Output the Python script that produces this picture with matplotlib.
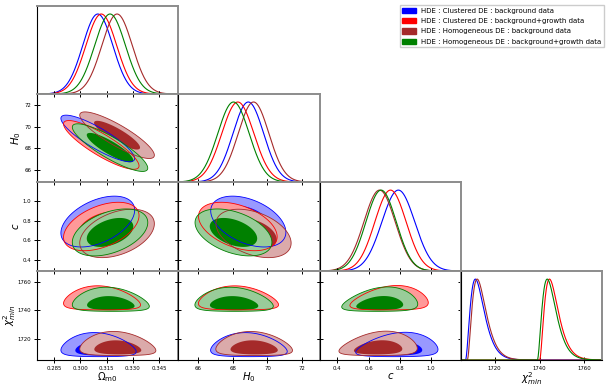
import numpy as np
import matplotlib
matplotlib.use('Agg')
import matplotlib.pyplot as plt
from matplotlib.patches import Patch
from matplotlib.colors import to_rgb
from math import lgamma

# ---------------- data ----------------
series_labels = ['HDE : Clustered DE : background data',
                 'HDE : Clustered DE : background+growth data',
                 'HDE : Homogeneous DE : background data',
                 'HDE : Homogeneous DE : background+growth data']
series_colors = ['#0000ff', '#ff0000', '#a52a2a', '#008000']

om_mean = [0.310, 0.312, 0.321, 0.317]
om_sigma = [0.0086, 0.0088, 0.0087, 0.0088]
h0_mean = [68.9, 68.3, 69.2, 68.05]
h0_sigma = [0.88, 0.92, 0.88, 0.90]
c_mean = [0.79, 0.74, 0.67, 0.68]
c_sigma = [0.105, 0.100, 0.100, 0.097]
chi2_start = [1707.0, 1740.0, 1707.8, 1739.0]
chi2_shape = [3.0, 3.0, 3.0, 3.0]
chi2_scale = [2.2, 2.2, 2.2, 2.2]

rho_om_h0 = [-0.86, -0.86, -0.86, -0.86]
rho_om_c = [0.45, 0.45, 0.40, 0.42]
rho_h0_c = [-0.42, -0.42, -0.40, -0.42]
chi2_tilt = {'om': -0.05, 'h0': -0.04, 'c': 0.09}

om_ticks = [0.285, 0.300, 0.315, 0.330, 0.345]
h0_ticks = [66, 68, 70, 72]
c_ticks = [0.4, 0.6, 0.8, 1.0]
chi_ticks = [1720, 1740, 1760]
om_ticklabels = ['0.285', '0.300', '0.315', '0.330', '0.345']
h0_ticklabels = ['66', '68', '70', '72']
c_ticklabels = ['0.4', '0.6', '0.8', '1.0']
chi_ticklabels = ['1720', '1740', '1760']

param_labels = [r'$\Omega_{\rm m0}$', r'$H_0$', r'$c$', r'$\chi^2_{min}$']

# ---------------- helpers ----------------
om_lim = (0.2753, 0.3558)
h0_lim = (64.87, 73.01)
c_lim = (0.29, 1.19)
chi_lim = (1705.0, 1767.8)
limits = [om_lim, h0_lim, c_lim, chi_lim]
ticks = [om_ticks, h0_ticks, c_ticks, chi_ticks]
ticklabels = [om_ticklabels, h0_ticklabels, c_ticklabels, chi_ticklabels]
keys = ['om', 'h0', 'c', 'chi']

means = {'om': om_mean, 'h0': h0_mean, 'c': c_mean}
sigmas = {'om': om_sigma, 'h0': h0_sigma, 'c': c_sigma}
rhos = {('om', 'h0'): rho_om_h0, ('om', 'c'): rho_om_c, ('h0', 'c'): rho_h0_c}


def light(col, a=0.4):
    r, g, b = to_rgb(col)
    return (1 - a + a * r, 1 - a + a * g, 1 - a + a * b)


def gamma_pdf(u, a, th):
    u = np.asarray(u, dtype=float)
    th = np.broadcast_to(np.asarray(th, dtype=float), u.shape)
    out = np.zeros_like(u)
    m = u > 0
    out[m] = np.exp((a - 1) * np.log(u[m] / th[m]) - u[m] / th[m] - lgamma(a)) / th[m]
    return out


def density(kx, ky, i, X, Y):
    mx, sx = means[kx][i], sigmas[kx][i]
    gx = np.exp(-0.5 * ((X - mx) / sx) ** 2)
    if ky == 'chi':
        th = chi2_scale[i] * np.exp(chi2_tilt[kx] * (X - mx) / sx)
        return gx * gamma_pdf(Y - chi2_start[i], chi2_shape[i], th)
    my, sy = means[ky][i], sigmas[ky][i]
    r = rhos[(kx, ky)][i]
    dx = (X - mx) / sx
    dy = (Y - my) / sy
    return np.exp(-0.5 * (dx * dx - 2 * r * dx * dy + dy * dy) / (1 - r * r))


def hpd_levels(Z):
    z = np.sort(Z.ravel())[::-1]
    cs = np.cumsum(z)
    cs /= cs[-1]
    return z[np.searchsorted(cs, 0.95)], z[np.searchsorted(cs, 0.68)]


def marginal(k, i, x):
    if k == 'chi':
        y = gamma_pdf(x - chi2_start[i], chi2_shape[i], chi2_scale[i])
    else:
        y = np.exp(-0.5 * ((x - means[k][i]) / sigmas[k][i]) ** 2)
    return y / y.max()


# ---------------- figure ----------------
W, H = 609, 386
fig = plt.figure(figsize=(W / 100, H / 100), dpi=100)
col_edges = [37, 178, 320, 461, 602]
row_edges = [6, 94, 182, 271, 360]

TICKFS = 3.9
LABFS = 7.3


def style_axes(ax, diag):
    for s in ['left', 'bottom']:
        ax.spines[s].set_color('black')
        ax.spines[s].set_linewidth(0.8)
    for s in ['top', 'right']:
        ax.spines[s].set_color('#8c8c8c')
        ax.spines[s].set_linewidth(1.4)
    if diag:
        ax.tick_params(axis='x', direction='inout', length=4, width=0.7,
                       bottom=True, top=False, labelsize=TICKFS, pad=2)
        ax.tick_params(axis='y', left=False, right=False, labelleft=False)
    else:
        ax.tick_params(direction='inout', length=4, width=0.7,
                       bottom=True, top=True, left=True, right=True,
                       labelsize=TICKFS, pad=2)


for r in range(4):
    for cidx in range(r + 1):
        x0 = col_edges[cidx] / W
        w = (col_edges[cidx + 1] - col_edges[cidx]) / W
        y0 = 1 - row_edges[r + 1] / H
        h = (row_edges[r + 1] - row_edges[r]) / H
        ax = fig.add_axes([x0, y0, w, h])
        kx = keys[cidx]
        ax.set_xlim(limits[cidx])
        ax.set_xticks(ticks[cidx])
        if r == cidx:
            style_axes(ax, True)
            xs = np.linspace(limits[cidx][0], limits[cidx][1], 600)
            for i in range(4):
                ax.plot(xs, marginal(kx, i, xs), color=series_colors[i], lw=0.8)
            ax.set_ylim(0, 1.1)
        else:
            style_axes(ax, False)
            ky = keys[r]
            ax.set_ylim(limits[r])
            ax.set_yticks(ticks[r])
            xl, yl = limits[cidx], limits[r]
            dxr = (xl[1] - xl[0]) * 0.6
            dyr = (yl[1] - yl[0]) * 0.6
            xs = np.linspace(xl[0] - dxr, xl[1] + dxr, 700)
            ys = np.linspace(yl[0] - dyr, yl[1] + dyr, 700)
            X, Y = np.meshgrid(xs, ys)
            outlines = []
            for i in range(4):
                Z = density(kx, ky, i, X, Y)
                l95, l68 = hpd_levels(Z)
                col = series_colors[i]
                ax.contourf(X, Y, Z, levels=[l95, Z.max() * 1.01], colors=[light(col)],
                            zorder=1 + i, antialiased=True)
                ax.contourf(X, Y, Z, levels=[l68, Z.max() * 1.01], colors=[col],
                            zorder=1 + i, antialiased=True)
                outlines.append((Z, l95, col))
            for Z, l95, col in outlines:
                ax.contour(X, Y, Z, levels=[l95], colors=[col], linewidths=0.6, zorder=10)
        # labels
        if r == 3:
            ax.set_xticklabels(ticklabels[cidx])
            ax.set_xlabel(param_labels[cidx], fontsize=LABFS, labelpad=0)
        else:
            ax.tick_params(labelbottom=False)
        if cidx == 0 and r > 0:
            ax.set_yticklabels(ticklabels[r])
            ax.set_ylabel(param_labels[r], fontsize=LABFS, labelpad=1 if r < 3 else 0)
        elif r != cidx:
            ax.tick_params(labelleft=False)

handles = [Patch(facecolor=c, edgecolor=c) for c in series_colors]
fig.legend(handles, series_labels, loc='upper right',
           bbox_to_anchor=(607 / W, 1 - 2 / H), fontsize=5.0,
           handlelength=2.0, handleheight=0.8, labelspacing=0.6,
           borderpad=0.35, handletextpad=0.7, fancybox=False,
           edgecolor='#cccccc', framealpha=1)

fig.savefig('out.png', dpi=100)
